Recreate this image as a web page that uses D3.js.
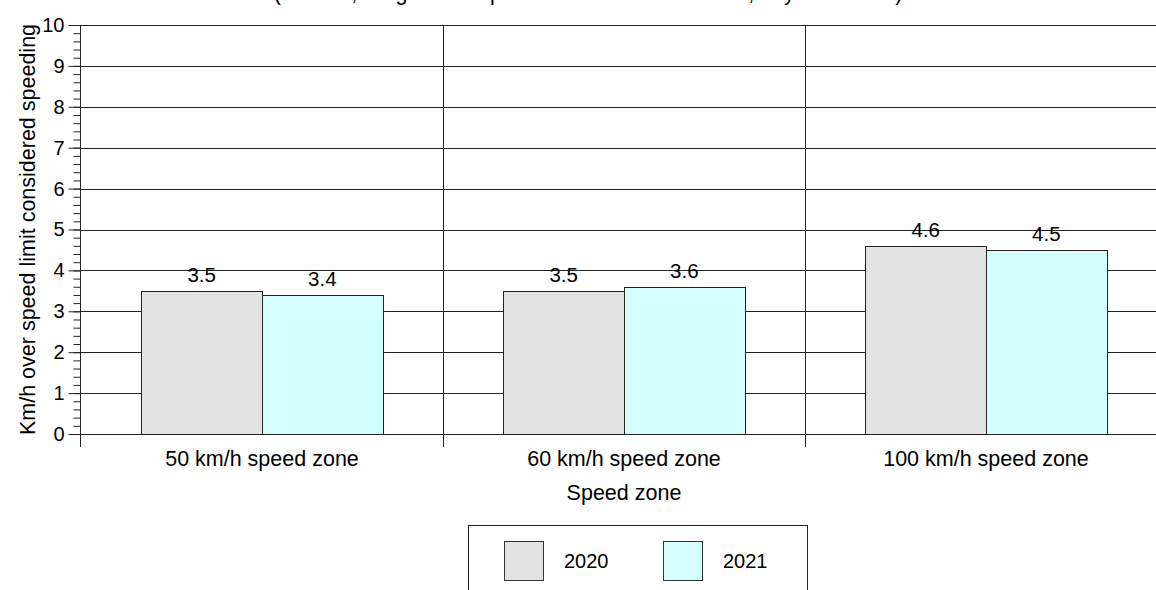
<!DOCTYPE html>
<html>
<head>
<meta charset="utf-8">
<script src="https://cdn.jsdelivr.net/npm/d3@7"></script>
<style>
  html, body { margin: 0; padding: 0; background: #fff; }
  svg { display: block; font-family: "Liberation Sans", Arial, sans-serif; }
</style>
</head>
<body>
<svg id="chart" width="1156" height="590"></svg>
<script>
const categories = ["50 km/h speed zone", "60 km/h speed zone", "100 km/h speed zone"];
const seriesNames = ["2020", "2021"];
const values2020 = [3.5, 3.5, 4.6];
const values2021 = [3.4, 3.6, 4.5];
const yTicks = [0, 1, 2, 3, 4, 5, 6, 7, 8, 9, 10];
const seriesColors = ["#e3e3e3", "#d4ffff"];
const titleText = "(Median, weighted to speed limit within each zone, daytime hours)";
const xTitle = "Speed zone";
const yTitle = "Km/h over speed limit considered speeding";

const svg = d3.select("#chart");
const mLeft = 81, mTop = 25, mBottom = 434;
const bandW = 362;
const mRight = mLeft + bandW * categories.length;

const x = d3.scaleBand().domain(categories).range([mLeft, mRight]).padding(0);
const xs = d3.scaleBand().domain(seriesNames).range([0, x.bandwidth()]).paddingInner(0).paddingOuter(0.5);
const y = d3.scaleLinear().domain([0, 10]).range([mBottom, mTop]);

const data = categories.map((c, i) => ({ cat: c, vals: [values2020[i], values2021[i]] }));

// title (cropped at the top of the picture, as in the reference)
svg.append("text").attr("x", 588).attr("y", -0.5).attr("text-anchor", "middle")
  .attr("font-size", 21.5).attr("fill", "#000").text(titleText);

// horizontal gridlines
svg.append("g").selectAll("line").data(yTicks).join("line")
  .attr("x1", mLeft).attr("x2", mRight)
  .attr("y1", d => Math.round(y(d)) + 0.5).attr("y2", d => Math.round(y(d)) + 0.5)
  .attr("stroke", "#222").attr("stroke-width", 1);

// vertical category separators
svg.append("g").selectAll("line").data(categories.slice(1)).join("line")
  .attr("x1", d => Math.round(x(d)) + 0.5).attr("x2", d => Math.round(x(d)) + 0.5)
  .attr("y1", mTop).attr("y2", mBottom + 13)
  .attr("stroke", "#222").attr("stroke-width", 1);

// bars
const g = svg.append("g").selectAll("g").data(data).join("g")
  .attr("transform", d => `translate(${x(d.cat)},0)`);
g.selectAll("rect").data(d => d.vals.map((v, i) => ({ v, s: seriesNames[i], i }))).join("rect")
  .attr("x", d => Math.round(xs(d.s)) + 0.5)
  .attr("y", d => Math.round(y(d.v)) + 0.5)
  .attr("width", Math.round(xs.bandwidth()))
  .attr("height", d => Math.round(y(0)) - Math.round(y(d.v)))
  .attr("fill", d => seriesColors[d.i])
  .attr("stroke", "#222").attr("stroke-width", 1);
g.selectAll("text").data(d => d.vals.map((v, i) => ({ v, s: seriesNames[i], i }))).join("text")
  .attr("x", d => xs(d.s) + xs.bandwidth() / 2)
  .attr("y", d => y(d.v) - 9)
  .attr("text-anchor", "middle").attr("font-size", 20.5).attr("fill", "#000")
  .text(d => d.v.toFixed(1));

// y axis (major)
const yAxis = d3.axisLeft(y).tickValues(yTicks).tickSize(12).tickPadding(4).tickFormat(d3.format("d"));
const ya = svg.append("g").attr("transform", `translate(${mLeft - 0.5},0)`).call(yAxis);
ya.select(".domain").remove();
ya.selectAll(".tick line").attr("stroke", "#222");
ya.selectAll(".tick text").attr("font-size", 20).attr("font-family", "Liberation Sans, Arial, sans-serif").attr("fill", "#000");
// minor ticks
const minor = d3.range(0, 10.001, 0.2).map(v => +v.toFixed(1));
const ym = svg.append("g").attr("transform", `translate(${mLeft - 0.5},0)`)
  .call(d3.axisLeft(y).tickValues(minor).tickSize(7).tickFormat(""));
ym.select(".domain").remove();
ym.selectAll(".tick line").attr("stroke", "#222");
// axis line
svg.append("line").attr("x1", mLeft - 0.5).attr("x2", mLeft - 0.5).attr("y1", mTop).attr("y2", mBottom + 13)
  .attr("stroke", "#222");

// x axis labels
svg.append("g").selectAll("text").data(categories).join("text")
  .attr("x", d => x(d) + x.bandwidth() / 2).attr("y", 466)
  .attr("text-anchor", "middle").attr("font-size", 21.5).attr("fill", "#000").text(d => d);

// axis titles
svg.append("text").attr("x", (mLeft + mRight) / 2).attr("y", 500).attr("text-anchor", "middle")
  .attr("font-size", 21.5).attr("fill", "#000").text(xTitle);
svg.append("text").attr("transform", `translate(35,${(mTop + mBottom) / 2}) rotate(-90)`)
  .attr("text-anchor", "middle").attr("font-size", 21.5).attr("fill", "#000").text(yTitle);

// legend
const lg = svg.append("g");
lg.append("rect").attr("x", 468.5).attr("y", 525.5).attr("width", 339).attr("height", 80)
  .attr("fill", "#fff").attr("stroke", "#222");
const lx = [504, 663];
seriesNames.forEach((s, i) => {
  lg.append("rect").attr("x", lx[i] + 0.5).attr("y", 541.5).attr("width", 39).attr("height", 39)
    .attr("fill", seriesColors[i]).attr("stroke", "#333");
  lg.append("text").attr("x", lx[i] + 60).attr("y", 568).attr("font-size", 20).attr("fill", "#000").text(s);
});
</script>
</body>
</html>
